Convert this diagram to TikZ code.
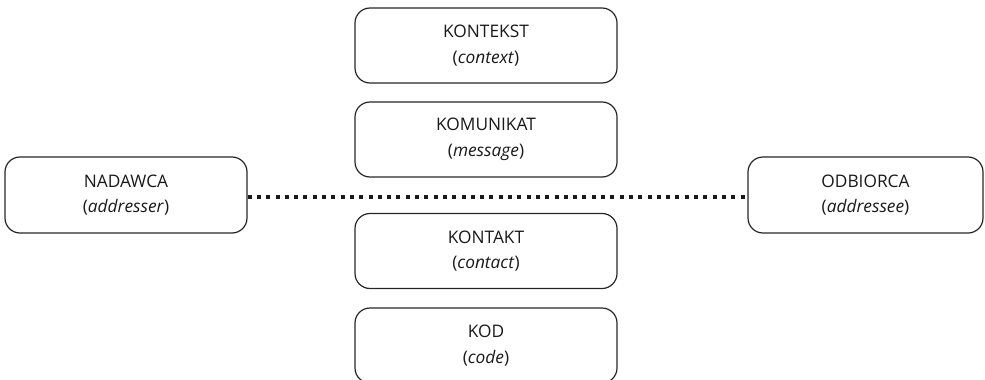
\documentclass[tikz,border=0pt]{standalone}
\usepackage{fontspec}
\setmainfont{Open Sans}
\usepackage{tikz}

\begin{document}
\begin{tikzpicture}[x=1pt,y=-1pt,
    box/.style={draw=black!85,line width=1.2pt,rounded corners=15pt,align=center,
        minimum width=262pt,minimum height=75pt,inner sep=0pt,
        font=\fontsize{17.3}{25.5}\selectfont,text=black!90}]
    \useasboundingbox (0,0) rectangle (985,380);

    \node[box] (kontekst) at (486,45.5){KONTEKST\\(\textit{context})};
    \node[box] (komunikat) at (486,139.5){KOMUNIKAT\\(\textit{message})};
    \node[box] (kontakt) at (486,251){KONTAKT\\(\textit{contact})};
    \node[box] (kod) at (486,345.5){KOD\\(\textit{code})};
    \node[box,minimum width=242pt,minimum height=76pt] (nadawca) at (126,195){NADAWCA\\(\textit{addresser})};
    \node[box,minimum width=235pt,minimum height=76pt] (odbiorca) at (865.5,195){ODBIORCA\\(\textit{addressee})};

    \draw[black!90,line width=4pt,dash pattern=on 4pt off 5.3pt]
        ([yshift=-2pt]nadawca.east)--([yshift=-2pt]odbiorca.west);

\end{tikzpicture}
\end{document}
